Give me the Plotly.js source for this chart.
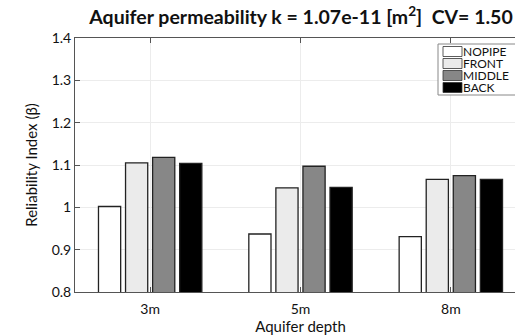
<!DOCTYPE html>
<html>
<head>
<meta charset="utf-8">
<script src="https://cdn.plot.ly/plotly-3.0.1.min.js"></script>
<style>
  html, body { margin: 0; padding: 0; overflow: hidden; background: #fff; }
  #chart { width: 530px; height: 335px; }
</style>
</head>
<body>
<div id="chart"></div>
<script>
// Aquifer depth categories and reliability index per pipe position
const depths = ["3m", "5m", "8m"];
const seriesNames = ["NOPIPE", "FRONT", "MIDDLE", "BACK"];
const nopipe = [1.002, 0.937, 0.931];
const front  = [1.105, 1.046, 1.066];
const middle = [1.118, 1.097, 1.075];
const back   = [1.104, 1.047, 1.066];
const yTickVals = [0.8, 0.9, 1.0, 1.1, 1.2, 1.3, 1.4];
const yTickText = ["0.8", "0.9", "1", "1.1", "1.2", "1.3", "1.4"];

const fills = ["#ffffff", "#ebebeb", "#878787", "#000000"];
const values = [nopipe, front, middle, back];
const FONT = "Lato, 'Open Sans', sans-serif";

const W = 530, H = 335;
const M = { l: 75, r: 4, t: 38, b: 43 };
const plotW = W - M.l - M.r, plotH = H - M.t - M.b;
const px2x = px => (px - M.l) / plotW;
const px2y = py => (H - M.b - py) / plotH;

const traces = seriesNames.map((name, i) => ({
  type: "bar",
  name: name,
  x: depths,
  y: values[i],
  marker: { color: fills[i], line: { color: "#222222", width: 1.3 } },
  showlegend: false,
  hoverinfo: "x+y+name"
}));

// Compact boxed legend in the upper-right corner
const shapes = [];
const annotations = [];
const lgLeft = 438, lgTop = 44, rowH = 12;
shapes.push({
  type: "rect", xref: "paper", yref: "paper", layer: "above",
  x0: px2x(lgLeft), x1: px2x(540),
  y0: px2y(lgTop), y1: px2y(lgTop + 4 * rowH + 3),
  fillcolor: "#ffffff", line: { color: "#888888", width: 1 }
});
seriesNames.forEach((name, i) => {
  const cy = lgTop + 7.5 + i * rowH;
  shapes.push({
    type: "rect", xref: "paper", yref: "paper", layer: "above",
    x0: px2x(443), x1: px2x(462),
    y0: px2y(cy - 5), y1: px2y(cy + 5),
    fillcolor: fills[i], line: { color: "#333333", width: 0.8 }
  });
  annotations.push({
    xref: "paper", yref: "paper", x: px2x(462), y: px2y(cy),
    xanchor: "left", yanchor: "middle", showarrow: false,
    borderpad: 0,
    text: name, font: { family: FONT, size: 12, color: "#111111" }
  });
});

const layout = {
  width: W, height: H,
  margin: M,
  paper_bgcolor: "#ffffff",
  plot_bgcolor: "#ffffff",
  barmode: "group",
  bargap: 0.28,
  bargroupgap: 0.18,
  title: {
    text: "Aquifer permeability k = 1.07e-11 [m<sup>2</sup>]  CV= 1.50",
    font: { family: FONT, size: 19.5, color: "#111111", weight: "bold" },
    x: 301 / W, xanchor: "center",
    y: 1 - 17 / H, yanchor: "middle"
  },
  xaxis: {
    type: "category",
    range: [-0.5, 2.5],
    title: { text: "Aquifer depth", font: { family: FONT, size: 15, color: "#111111" }, standoff: 3 },
    tickfont: { family: FONT, size: 14, color: "#111111" },
    ticklabelstandoff: 4,
    showline: true, linecolor: "#555555", linewidth: 1, mirror: "ticks",
    ticks: "inside", ticklen: 5, tickcolor: "#555555",
    showgrid: true, gridcolor: "#ececec", gridwidth: 1,
    zeroline: false, fixedrange: true
  },
  yaxis: {
    range: [0.8, 1.4],
    tickvals: yTickVals, ticktext: yTickText,
    title: { text: "Reliability Index (\u03b2)", font: { family: FONT, size: 15, color: "#111111" }, standoff: 10 },
    tickfont: { family: FONT, size: 14, color: "#111111" },
    showline: true, linecolor: "#555555", linewidth: 1, mirror: "ticks",
    ticks: "inside", ticklen: 5, tickcolor: "#555555",
    showgrid: true, gridcolor: "#ececec", gridwidth: 1,
    zeroline: false, fixedrange: true
  },
  shapes: shapes,
  annotations: annotations,
  showlegend: false
};

Plotly.newPlot("chart", traces, layout, { displayModeBar: false, staticPlot: true });
</script>
</body>
</html>
